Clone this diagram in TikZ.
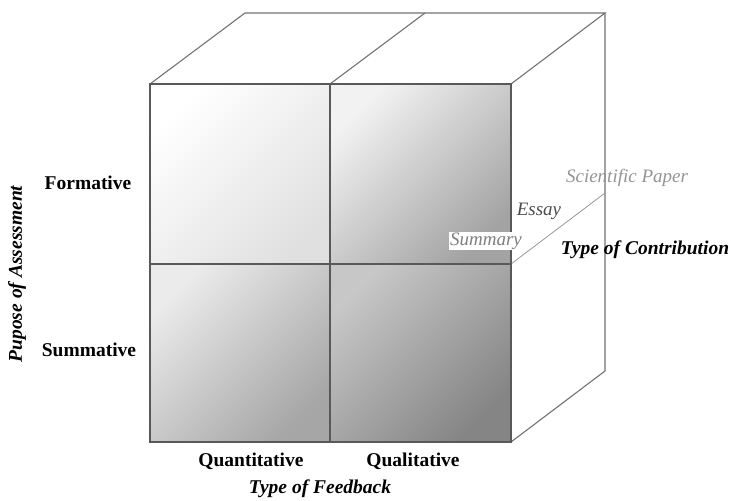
\documentclass[tikz,border=0pt]{standalone}
\usepackage{fontspec}
\setmainfont{Liberation Serif}
\begin{document}
\begin{tikzpicture}[x=1pt,y=-1pt,
  grid/.style={draw=black!65,line width=1.6pt},
  edge/.style={draw=black!55,line width=1.1pt},
  lbl/.style={font=\fontsize{19.5}{21}\selectfont\bfseries, inner sep=0pt},
  axis/.style={font=\fontsize{19.5}{21}\selectfont\bfseries\itshape, inner sep=0pt},
  cat/.style={font=\fontsize{19}{21}\selectfont\itshape, inner sep=1pt}]
\useasboundingbox[fill=white] (0,0) rectangle (732,501);

% front face corners and grid points
\coordinate (A) at (150,84);  \coordinate (B) at (330,84);  \coordinate (C) at (511,84);
\coordinate (D) at (150,264); \coordinate (E) at (330,264); \coordinate (F) at (511,264);
\coordinate (G) at (150,442); \coordinate (H) at (330,442); \coordinate (I) at (511,442);
% receding edges
\coordinate (Ab) at (245,13); \coordinate (Bb) at (425,13); \coordinate (Cb) at (605,13);
\coordinate (Fb) at (605,193); \coordinate (Ib) at (605,371);

% shaded cells
\shade[top color=white, bottom color=black!12, shading angle=45] (A) rectangle (E);
\shade[top color=black!5, bottom color=black!36, shading angle=45] (B) rectangle (F);
\shade[top color=black!8, bottom color=black!35, shading angle=45] (D) rectangle (H);
\shade[top color=black!22, bottom color=black!48, shading angle=45] (E) rectangle (I);

% receding edges of the cube
\draw[edge] (A) -- (Ab) -- (Cb) -- (C);
\draw[edge] (B) -- (Bb);
\draw[edge] (Cb) -- (Ib) -- (I);
\draw[edge, draw=black!40, line width=0.8pt] (F) -- (Fb);

% front grid
\draw[grid] (A) rectangle (I);
\draw[grid] (B) -- (H);
\draw[grid] (D) -- (F);

% row labels
\node[lbl] (formative) at (88,183) {Formative};
\node[lbl] (summative) at (89,350) {Summative};
\node[axis, rotate=90] (purpose) at (17,274) {Pupose of Assessment};

% column labels
\node[lbl] (quant) at (251,461) {Quantitative};
\node[lbl] (qual) at (413,461) {Qualitative};
\node[axis] (feedback) at (320,489) {Type of Feedback};

% contribution labels
\node[cat, fill=white, text=black!50] (summary) at (486,241) {Summary};
\node[cat, text=black!70] (essay) at (539,211) {Essay};
\node[cat, text=black!42] (paper) at (627,178) {Scientific Paper};
\node[axis] (contrib) at (645,250) {Type of Contribution};
\end{tikzpicture}
\end{document}
